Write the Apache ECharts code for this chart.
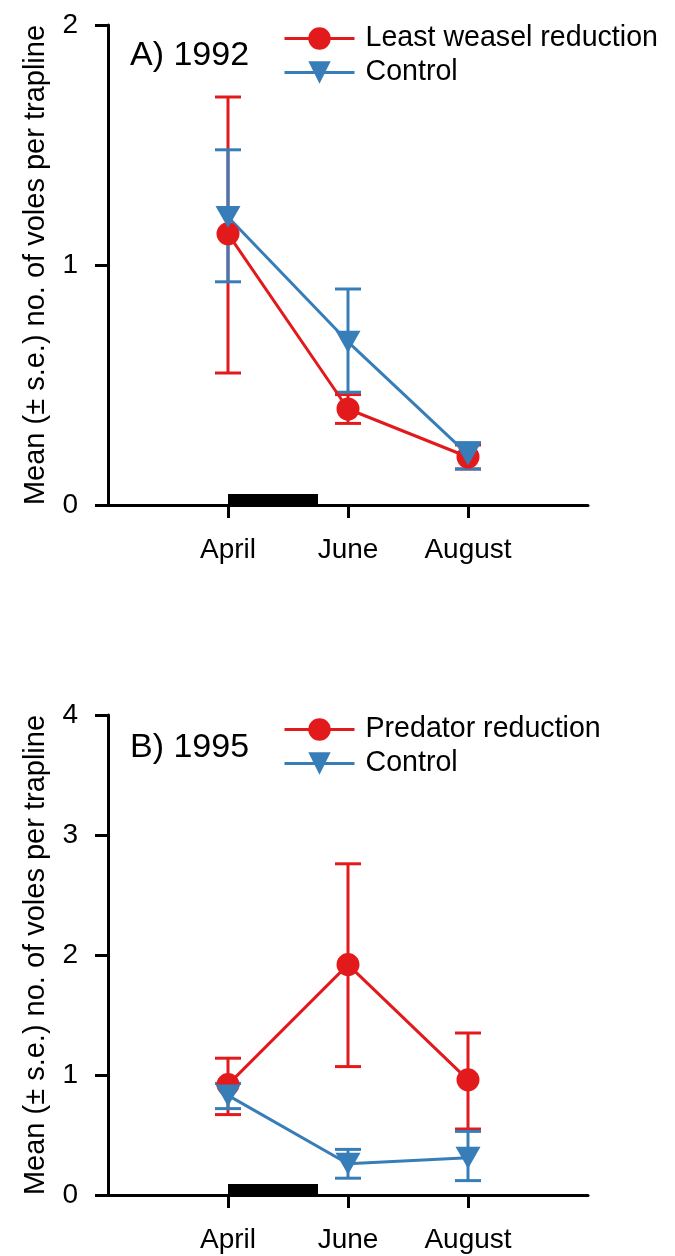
<!DOCTYPE html>
<html>
<head>
<meta charset="utf-8">
<script src="https://cdn.jsdelivr.net/npm/echarts@6/dist/echarts.min.js"></script>
<style>
  html, body { margin: 0; padding: 0; background: #fff; }
  #chart { width: 675px; height: 1256px; }
</style>
</head>
<body>
<div id="chart"></div>
<script>
// Sampling months (placed at x = 1, 2, 3 on each panel)
const months = ['April', 'June', 'August'];

// Panel A – 1992
const titleA = 'A) 1992';
const namesA = ['Least weasel reduction', 'Control'];
const weaselMean = [1.13, 0.40, 0.20];
const weaselLow  = [0.55, 0.34, 0.15];
const weaselHigh = [1.70, 0.46, 0.25];
const controlAMean = [1.20, 0.68, 0.21];
const controlALow  = [0.93, 0.47, 0.15];
const controlAHigh = [1.48, 0.90, 0.26];
const yTicksA = [0, 1, 2];

// Panel B – 1995
const titleB = 'B) 1995';
const namesB = ['Predator reduction', 'Control'];
const predatorMean = [0.92, 1.92, 0.96];
const predatorLow  = [0.67, 1.07, 0.55];
const predatorHigh = [1.14, 2.76, 1.35];
const controlBMean = [0.83, 0.26, 0.31];
const controlBLow  = [0.72, 0.14, 0.12];
const controlBHigh = [0.93, 0.38, 0.53];
const yTicksB = [0, 1, 2, 3, 4];

// Removal period, in x-axis units (starts at April)
const removalPeriod = [1, 1.75];

const yTitle = 'Mean (\u00b1 s.e.) no. of voles per trapline';

const RED = '#E31A1C';
const BLUE = '#377EB8';
const FONT = '"Liberation Sans", Arial, Helvetica, sans-serif';

const points = (vals) => vals.map((v, i) => [i + 1, v]);
const bars = (lo, hi) => lo.map((v, i) => [i + 1, v, hi[i]]);

function errorBarSeries(name, idx, lo, hi, color) {
  return {
    type: 'custom',
    name: name,
    xAxisIndex: idx,
    yAxisIndex: idx,
    data: bars(lo, hi),
    encode: { x: 0, y: [1, 2] },
    silent: true,
    renderItem(params, api) {
      const x = api.value(0);
      const a = api.coord([x, api.value(1)]);
      const b = api.coord([x, api.value(2)]);
      const hw = 13;
      const st = { stroke: color, lineWidth: 3 };
      return {
        type: 'group',
        children: [
          { type: 'line', shape: { x1: a[0], y1: a[1], x2: b[0], y2: b[1] }, style: st },
          { type: 'line', shape: { x1: a[0] - hw, y1: a[1], x2: a[0] + hw, y2: a[1] }, style: st },
          { type: 'line', shape: { x1: b[0] - hw, y1: b[1], x2: b[0] + hw, y2: b[1] }, style: st }
        ]
      };
    }
  };
}

function lineSeries(name, idx, vals, color, symbol) {
  return {
    type: 'line',
    name: name,
    xAxisIndex: idx,
    yAxisIndex: idx,
    data: points(vals),
    symbol: symbol,
    symbolSize: symbol === 'circle' ? 23 : [25, 22],
    symbolRotate: symbol === 'triangle' ? 180 : 0,
    showAllSymbol: true,
    lineStyle: { color: color, width: 3 },
    itemStyle: { color: color },
    emphasis: { disabled: true },
    animation: false
  };
}

function removalBar(idx) {
  return {
    type: 'custom',
    name: 'removal' + idx,
    xAxisIndex: idx,
    yAxisIndex: idx,
    data: [[removalPeriod[0], removalPeriod[1], 0]],
    encode: { x: [0, 1], y: 2 },
    silent: true,
    z: 5,
    renderItem(params, api) {
      const p0 = api.coord([api.value(0), api.value(2)]);
      const p1 = api.coord([api.value(1), api.value(2)]);
      const h = 11;
      return {
        type: 'rect',
        shape: { x: p0[0], y: p0[1] - h, width: p1[0] - p0[0], height: h },
        style: { fill: '#000' }
      };
    }
  };
}

function xAxisFor(idx) {
  return {
    type: 'value',
    gridIndex: idx,
    min: 0,
    max: 4,
    interval: 1,
    axisLine: { lineStyle: { color: '#000', width: 3 } },
    axisTick: { customValues: [1, 2, 3], length: 13, lineStyle: { color: '#000', width: 3 } },
    axisLabel: {
      customValues: [1, 2, 3],
      formatter: (v) => months[v - 1],
      color: '#000',
      fontSize: 28,
      fontFamily: FONT,
      margin: 31
    },
    splitLine: { show: false }
  };
}

function yAxisFor(idx, ticks) {
  return {
    type: 'value',
    gridIndex: idx,
    min: ticks[0],
    max: ticks[ticks.length - 1],
    interval: 1,
    name: yTitle,
    nameLocation: 'middle',
    nameGap: 58,
    nameRotate: 90,
    nameTextStyle: { color: '#000', fontSize: 29, fontFamily: FONT },
    axisLine: { show: true, lineStyle: { color: '#000', width: 3 } },
    axisTick: { show: true, length: 13, lineStyle: { color: '#000', width: 3 } },
    axisLabel: { color: '#000', fontSize: 28, fontFamily: FONT, margin: 30 },
    splitLine: { show: false }
  };
}

const legendBase = {
  orient: 'vertical',
  left: 278,
  itemWidth: 70,
  itemHeight: 28,
  itemGap: 5,
  lineStyle: { width: 3 },
  textStyle: { color: '#000', fontSize: 28.6, fontFamily: FONT, padding: [0, 0, 0, 6] },
  selectedMode: false,
  symbolRotate: 'inherit'
};

const option = {
  backgroundColor: '#fff',
  animation: false,
  title: [
    { text: titleA, left: 130, top: 39, padding: 0,
      textStyle: { color: '#000', fontSize: 34, fontWeight: 'normal', fontFamily: FONT } },
    { text: titleB, left: 130, top: 731, padding: 0,
      textStyle: { color: '#000', fontSize: 34, fontWeight: 'normal', fontFamily: FONT } }
  ],
  legend: [
    Object.assign({}, legendBase, { top: 19, data: namesA }),
    Object.assign({}, legendBase, { top: 710, data: namesB })
  ],
  grid: [
    { left: 108, top: 25, width: 480, height: 480 },
    { left: 108, top: 715, width: 480, height: 480 }
  ],
  xAxis: [xAxisFor(0), xAxisFor(1)],
  yAxis: [yAxisFor(0, yTicksA), yAxisFor(1, yTicksB)],
  series: [
    removalBar(0),
    errorBarSeries('eA1', 0, weaselLow, weaselHigh, RED),
    lineSeries(namesA[0], 0, weaselMean, RED, 'circle'),
    errorBarSeries('eA2', 0, controlALow, controlAHigh, BLUE),
    lineSeries(namesA[1], 0, controlAMean, BLUE, 'triangle'),

    removalBar(1),
    errorBarSeries('eB1', 1, predatorLow, predatorHigh, RED),
    lineSeries(namesB[0], 1, predatorMean, RED, 'circle'),
    errorBarSeries('eB2', 1, controlBLow, controlBHigh, BLUE),
    lineSeries(namesB[1], 1, controlBMean, BLUE, 'triangle')
  ]
};

const chart = echarts.init(document.getElementById('chart'), null, { renderer: 'canvas' });
chart.setOption(option);
</script>
</body>
</html>
